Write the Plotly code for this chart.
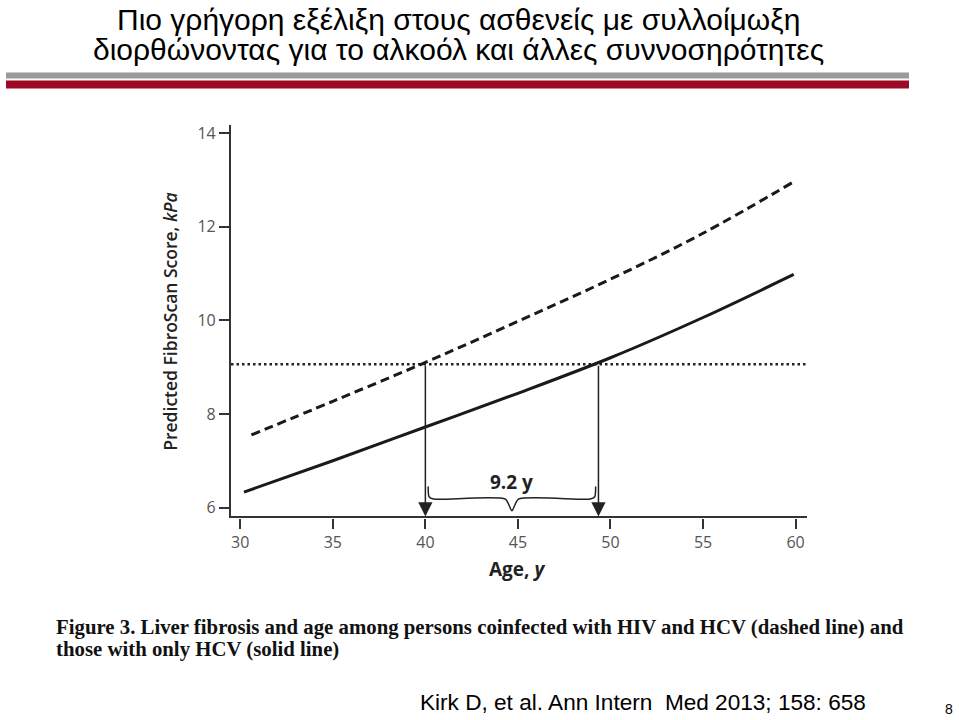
import plotly.graph_objects as go

# ---- data ----
age_solid = [30.2, 35, 40, 45, 50, 55, 59.9]
fibro_hcv_only = [6.33, 7.00, 7.72, 8.44, 9.20, 10.06, 10.98]
age_dashed = [30.6, 35, 40, 45, 50, 55, 59.9]
fibro_hiv_hcv = [7.55, 8.27, 9.10, 9.98, 10.88, 11.86, 12.96]
threshold = 9.06
cross_ages = [40.0, 49.35]
gap_label = "9.2 y"
x_ticks = [30, 35, 40, 45, 50, 55, 60]
y_ticks = [6, 8, 10, 12, 14]
x_range = [29.5, 60.6]
y_range = [5.81, 14.17]

W, H = 959, 720
dom_x = [231 / W, 806.7 / W]
dom_y = [1 - 517 / H, 1 - 123 / H]

fig = go.Figure()

# threshold dotted line
fig.add_trace(go.Scatter(x=x_range, y=[threshold, threshold], mode="lines",
                         line=dict(color="#222", width=2.5, dash="2.5px,3px"),
                         hoverinfo="skip", showlegend=False))
# dashed: HIV+HCV
fig.add_trace(go.Scatter(x=age_dashed, y=fibro_hiv_hcv, mode="lines",
                         line=dict(color="#1a1a1a", width=3, dash="9px,5px", shape="spline"),
                         showlegend=False))
# solid: HCV only
fig.add_trace(go.Scatter(x=age_solid, y=fibro_hcv_only, mode="lines",
                         line=dict(color="#1a1a1a", width=3, shape="spline"),
                         showlegend=False))

# brace between crossings
a1, a2 = cross_ages
mid = (a1 + a2) / 2
lvl, tip, low = 6.18, 6.45, 5.93
bx = [a1 + 0.15, a1 + 0.2, a1 + 0.45, mid - 0.35, mid, mid + 0.35, a2 - 0.45, a2 - 0.2, a2 - 0.15]
by = [tip, lvl + 0.05, lvl, lvl, low, lvl, lvl, lvl + 0.05, tip]
fig.add_trace(go.Scatter(x=bx, y=by, mode="lines",
                         line=dict(color="#222", width=1.5, shape="spline", smoothing=0.6),
                         hoverinfo="skip", showlegend=False))

annotations = []
for a in cross_ages:
    annotations.append(dict(x=a, y=y_range[0], ax=a, ay=threshold, xref="x", yref="y",
                            axref="x", ayref="y", showarrow=True, arrowhead=2,
                            arrowsize=1.9, arrowwidth=1.5, arrowcolor="#222", text=""))
annotations.append(dict(x=mid, y=6.55, xref="x", yref="y", text=gap_label, showarrow=False,
                        font=dict(family="Open Sans", size=19, color="#222", weight=700)))

# titles
title_font = dict(family="Liberation Sans", size=30, color="#000")
annotations.append(dict(x=458 / W, y=1 - 17 / H, xref="paper", yref="paper", showarrow=False,
                        text="Πιο γρήγορη εξέλιξη στους ασθενείς με συλλοίμωξη", font=title_font,
                        xanchor="center", yanchor="middle"))
annotations.append(dict(x=458 / W, y=1 - 47 / H, xref="paper", yref="paper", showarrow=False,
                        text="διορθώνοντας για το αλκοόλ και άλλες συννοσηρότητες", font=title_font,
                        xanchor="center", yanchor="middle"))

cap_font = dict(family="Liberation Serif", size=20.8, color="#111", weight="bold")
annotations.append(dict(x=54 / W, y=1 - 628 / H, xref="paper", yref="paper", showarrow=False,
                        text="Figure 3. Liver fibrosis and age among persons coinfected with HIV and HCV (dashed line) and",
                        font=cap_font, xanchor="left", yanchor="middle"))
annotations.append(dict(x=54 / W, y=1 - 651 / H, xref="paper", yref="paper", showarrow=False,
                        text="those with only HCV (solid line)",
                        font=cap_font, xanchor="left", yanchor="middle"))
annotations.append(dict(x=418 / W, y=1 - 704 / H, xref="paper", yref="paper", showarrow=False,
                        text="Kirk D, et al. Ann Intern  Med 2013; 158: 658",
                        font=dict(family="Liberation Sans", size=22.6, color="#000"),
                        xanchor="left", yanchor="middle"))
annotations.append(dict(x=955 / W, y=1 - 711 / H, xref="paper", yref="paper", showarrow=False,
                        text="8", font=dict(family="Liberation Sans", size=14, color="#000"),
                        xanchor="right", yanchor="middle"))
annotations.append(dict(x=517 / W, y=1 - 570 / H, xref="paper", yref="paper", showarrow=False,
                        text="Age, <i>y</i>",
                        font=dict(family="Open Sans", size=19, color="#222", weight=700),
                        xanchor="center", yanchor="middle"))
annotations.append(dict(x=170 / W, y=1 - 321 / H, xref="paper", yref="paper", showarrow=False,
                        text="Predicted FibroScan Score, <i>kPa</i>", textangle=-90,
                        font=dict(family="Open Sans", size=17.5, color="#222", weight=600),
                        xanchor="center", yanchor="middle"))

shapes = [
    dict(type="rect", xref="paper", yref="paper", x0=6 / W, x1=909 / W, y0=1 - 76 / H, y1=1 - 70 / H,
         fillcolor="#9a9a9a", line=dict(width=0)),
    dict(type="rect", xref="paper", yref="paper", x0=6 / W, x1=909 / W, y0=1 - 86 / H, y1=1 - 78 / H,
         fillcolor="#9c0a26", line=dict(width=0)),
]

axis_common = dict(showgrid=False, zeroline=False, showline=True, linecolor="#333", linewidth=2.2,
                   ticks="outside", ticklen=10, tickwidth=1.6, tickcolor="#333",
                   tickfont=dict(family="Open Sans", size=16, color="#555"))

fig.update_layout(
    width=W, height=H, margin=dict(l=0, r=0, t=0, b=0),
    paper_bgcolor="white", plot_bgcolor="white",
    xaxis=dict(range=x_range, domain=dom_x, tickvals=x_ticks, **axis_common),
    yaxis=dict(range=y_range, domain=dom_y, tickvals=y_ticks, **axis_common),
    annotations=annotations, shapes=shapes, showlegend=False,
)

fig.write_html("out.html")
